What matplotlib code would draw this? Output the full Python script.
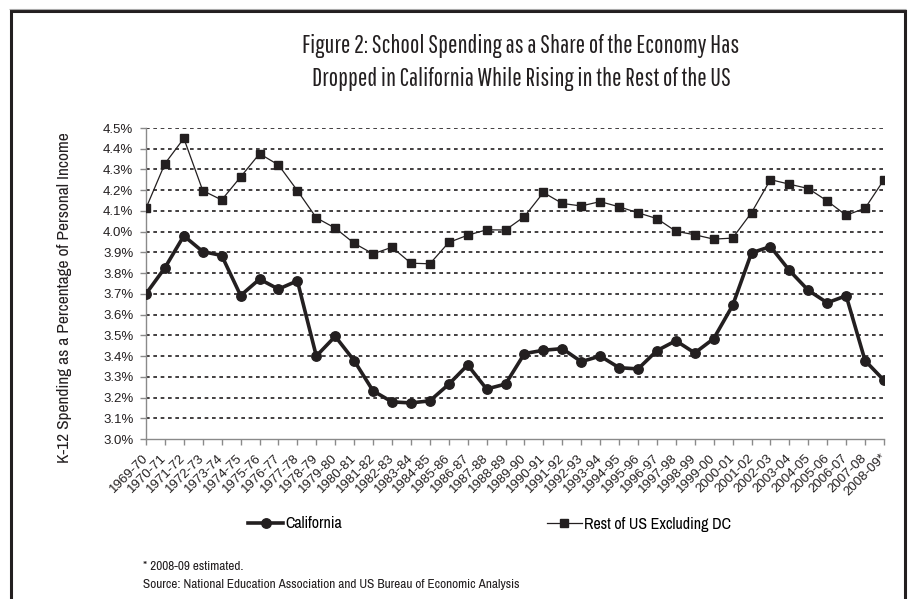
import matplotlib
matplotlib.use('Agg')
import matplotlib.pyplot as plt
from matplotlib.patches import Rectangle
from matplotlib.ticker import FuncFormatter

# -- Data --
years = ['1969-70', '1970-71', '1971-72', '1972-73', '1973-74', '1974-75', '1975-76',
         '1976-77', '1977-78', '1978-79', '1979-80', '1980-81', '1981-82', '1982-83',
         '1983-84', '1984-85', '1985-86', '1986-87', '1987-88', '1988-89', '1989-90',
         '1990-91', '1991-92', '1992-93', '1993-94', '1994-95', '1995-96', '1996-97',
         '1997-98', '1998-99', '1999-00', '2000-01', '2001-02', '2002-03', '2003-04',
         '2004-05', '2005-06', '2006-07', '2007-08', '2008-09*']

california = [3.700, 3.826, 3.980, 3.904, 3.885, 3.692, 3.771, 3.723, 3.763, 3.400,
              3.495, 3.378, 3.232, 3.179, 3.174, 3.184, 3.264, 3.357, 3.241, 3.265,
              3.412, 3.428, 3.436, 3.373, 3.400, 3.344, 3.338, 3.426, 3.474, 3.415,
              3.484, 3.644, 3.898, 3.928, 3.813, 3.717, 3.657, 3.691, 3.378, 3.283]

rest_of_us = [4.113, 4.328, 4.450, 4.198, 4.153, 4.264, 4.376, 4.322, 4.198, 4.067,
              4.017, 3.944, 3.893, 3.925, 3.848, 3.845, 3.948, 3.983, 4.009, 4.008,
              4.073, 4.189, 4.136, 4.124, 4.145, 4.120, 4.091, 4.063, 4.002, 3.985,
              3.964, 3.969, 4.092, 4.251, 4.229, 4.208, 4.148, 4.079, 4.113, 4.251]

yticks = [3.0 + 0.1 * i for i in range(16)]

ink = '#231f20'
axis_gray = '#8a8a8a'
display = ['Pathway Gothic One', 'Liberation Sans Narrow', 'DejaVu Sans']
narrow = ['Archivo Narrow', 'Roboto Condensed', 'DejaVu Sans']
sans = ['Liberation Sans', 'DejaVu Sans']

W, H = 908, 599
fig = plt.figure(figsize=(W / 100, H / 100), dpi=100)

# outer frame
fig.patches.append(Rectangle((10.5 / W, -0.05), (905 - 10.5) / W, 1.05 - 11 / H,
                             transform=fig.transFigure, fill=False,
                             edgecolor=ink, linewidth=2.2))
fig.patches.append(Rectangle((9 / W, 1 - 9 / H), (906 - 9) / W, 0.0,
                             transform=fig.transFigure, fill=False,
                             edgecolor='#aaaaaa', linewidth=0.8))

ax = fig.add_axes([146 / W, 1 - 439 / H, (884 - 146) / W, (439 - 128) / H])

x = list(range(len(years)))
ax.plot(x, california, color=ink, linewidth=2.6, marker='o', markersize=6.8,
        label='California', zorder=4)
ax.plot(x, rest_of_us, color=ink, linewidth=0.9, marker='s', markersize=6.3,
        label='Rest of US Excluding DC', zorder=4)

ax.set_xlim(0, len(years) - 1)
ax.set_ylim(3.0, 4.5)
ax.set_yticks(yticks)
ax.yaxis.set_major_formatter(FuncFormatter(lambda v, p: f'{v:.1f}%'))
ax.set_xticks(x)
ax.set_xticklabels(years, rotation=45, ha='right', va='center',
                   rotation_mode='anchor', family=sans, fontsize=9.5)

for v in yticks[1:]:
    ax.axhline(v, color=ink, linewidth=1.2, linestyle=(0, (2.2, 2.2)), zorder=1)

for s in ['top', 'right']:
    ax.spines[s].set_visible(False)
for s in ['left', 'bottom']:
    ax.spines[s].set_color(axis_gray)
    ax.spines[s].set_linewidth(1.0)
ax.tick_params(axis='y', direction='out', length=4.3, width=1, color=axis_gray,
               pad=4.8, labelsize=9.5, labelcolor=ink)
ax.tick_params(axis='x', direction='out', length=4.3, width=1, color=axis_gray,
               pad=8, labelcolor=ink)
for lab in ax.get_yticklabels():
    lab.set_family(sans)

# titles and labels
fig.text(521 / W, 1 - 46 / H, 'Figure 2: School Spending as a Share of the Economy Has',
         ha='center', va='center', family=display, fontsize=18, color=ink)
fig.text(521 / W, 1 - 79 / H, 'Dropped in California While Rising in the Rest of the US',
         ha='center', va='center', family=display, fontsize=18, color=ink)
fig.text(65 / W, 1 - 298 / H, 'K-12 Spending as a Percentage of Personal Income',
         rotation=90, ha='center', va='center', family=narrow, fontsize=12.5, color=ink)

fig.legend(loc='center left', bbox_to_anchor=(248 / W, 1 - 524 / H), ncol=2,
           frameon=False, borderpad=0, borderaxespad=0, handlelength=2.2,
           handletextpad=0.15, columnspacing=12.8,
           prop={'family': narrow, 'size': 11.5})

fig.text(143 / W, 1 - 566 / H, '* 2008-09 estimated.', ha='left', va='center',
         family=narrow, fontsize=9.5, color=ink)
fig.text(143 / W, 1 - 584 / H,
         'Source: National Education Association and US Bureau of Economic Analysis',
         ha='left', va='center', family=narrow, fontsize=9.5, color=ink)

fig.savefig('out.png', dpi=100)
